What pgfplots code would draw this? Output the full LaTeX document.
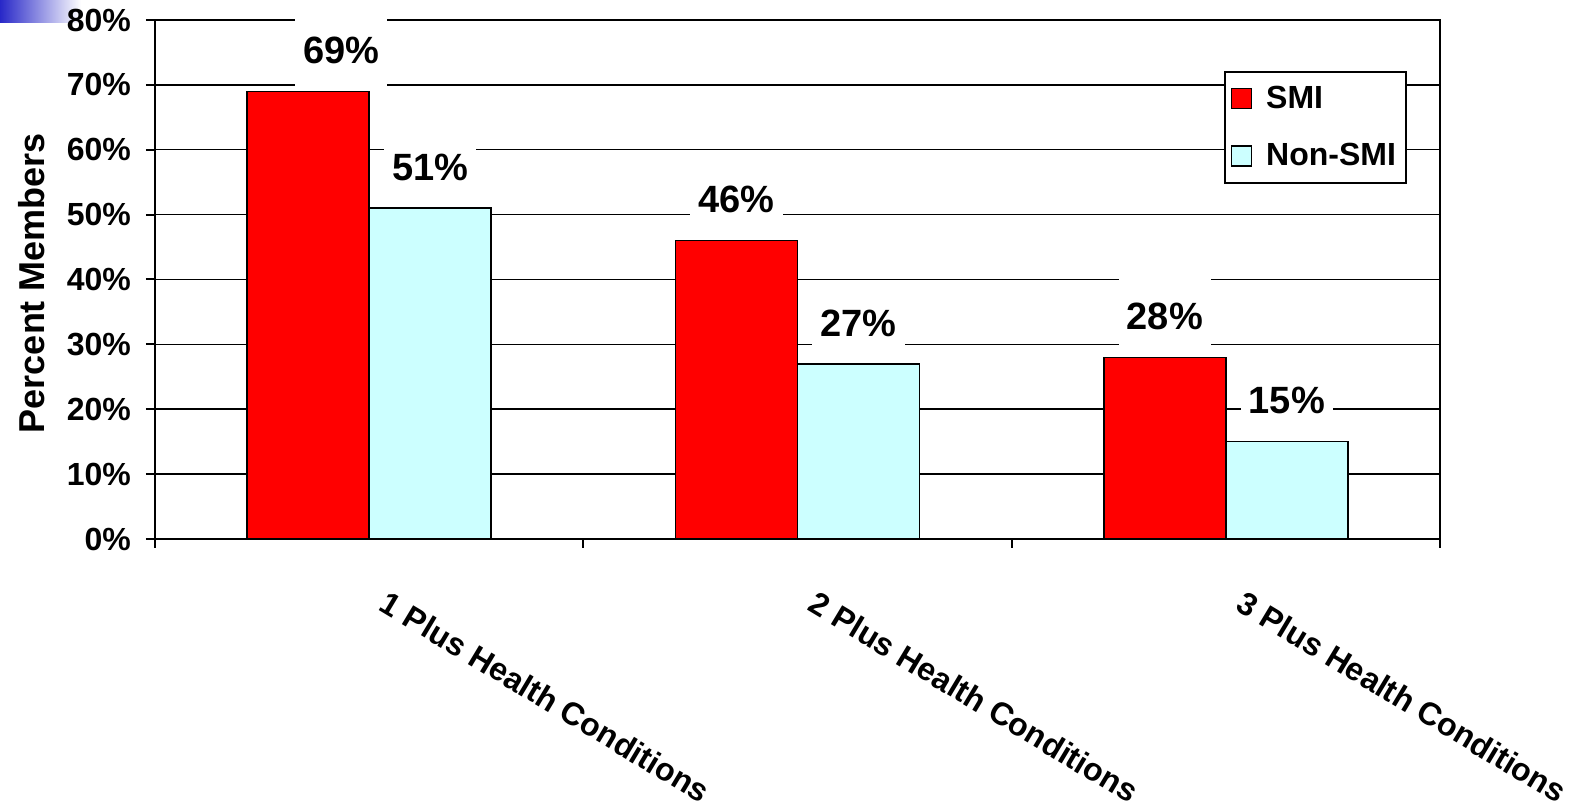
\documentclass[border=0pt]{standalone}
\usepackage{fontspec}
\setmainfont{Liberation Sans}
\usepackage{pgfplots}
\usepackage{pgfplotstable}
\pgfplotsset{compat=1.18}
\definecolor{smired}{HTML}{FF0000}
\definecolor{noncyan}{HTML}{CCFFFF}
\pgfplotstableread{
x y dx
0 69 16.5
1 46 0
2 28 0
}\smi
\pgfplotstableread{
x y dx
0 51 0
1 27 0
2 15 0
}\nonsmi
\begin{document}
\begin{tikzpicture}
\shade[left color={rgb,255:red,40;green,40;blue,200}, right color=white] (-77.5pt,269.5pt) rectangle (-37pt,258pt);
\begin{axis}[
  scale only axis, width=642.5pt, height=259.5pt,
  at={(0,0)}, anchor=south west,
  ymin=0, ymax=80, xmin=-0.5, xmax=2.5,
  ybar=0pt, bar width=61pt,
  ytick={0,10,...,80},
  yticklabels={0\%,10\%,20\%,30\%,40\%,50\%,60\%,70\%,80\%},
  xtick={-0.5,0.5,1.5,2.5},
  xticklabels={},
  extra x ticks={0,1,2},
  extra x tick labels={1 Plus Health Conditions,2 Plus Health Conditions,3 Plus Health Conditions},
  extra x tick style={major tick length=0pt},
  ymajorgrids, grid style={black, line width=0.75pt},
  axis line style={line width=1.3pt},
  tick style={black, line width=1pt},
  tick pos=left, tick align=outside, major tick length=4.5pt,
  tick label style={font=\fontsize{16}{18}\selectfont\bfseries},
  yticklabel style={anchor=east, xshift=-4pt},
  xticklabel style={anchor=north west, rotate=-31, xshift=18.5pt, yshift=-13pt},
  ylabel={Percent Members},
  ylabel style={font=\fontsize{18}{20}\selectfont\bfseries, at={(axis description cs:0,0.5)}, anchor=center, yshift=61.5pt, xshift=-1.75pt},
  legend style={at={(0.9743,0.9017)}, anchor=north east, draw=black, line width=1pt,
    font=\fontsize{16}{18}\selectfont\bfseries, inner xsep=3pt, inner ysep=5pt, row sep=12pt,
    /tikz/every odd column/.append style={column sep=5pt}},
  legend cell align=left,
  legend image code/.code={\draw[#1, line width=0.75pt] (0pt,-5pt) rectangle (10pt,5pt);},
  nodes near coords={\pgfmathprintnumber[assume math mode=true]{\pgfplotspointmeta}\%},
  visualization depends on={\thisrow{dx} \as \dx},
  every node near coord/.append style={anchor=south, fill=white, inner xsep=4pt, inner ysep=0pt,
    minimum height=40pt, xshift=\dx pt, yshift=0pt, font=\fontsize{19}{22}\selectfont\bfseries, text=black},
]
\addplot[draw=black, line width=0.75pt, fill=smired] table[x=x, y=y] {\smi};
\addplot[draw=black, line width=0.75pt, fill=noncyan] table[x=x, y=y] {\nonsmi};
\legend{SMI,Non-SMI}
\end{axis}
\pgfresetboundingbox
\path[use as bounding box] (-77.5pt,-134pt) rectangle (716pt,269.5pt);
\end{tikzpicture}
\end{document}
